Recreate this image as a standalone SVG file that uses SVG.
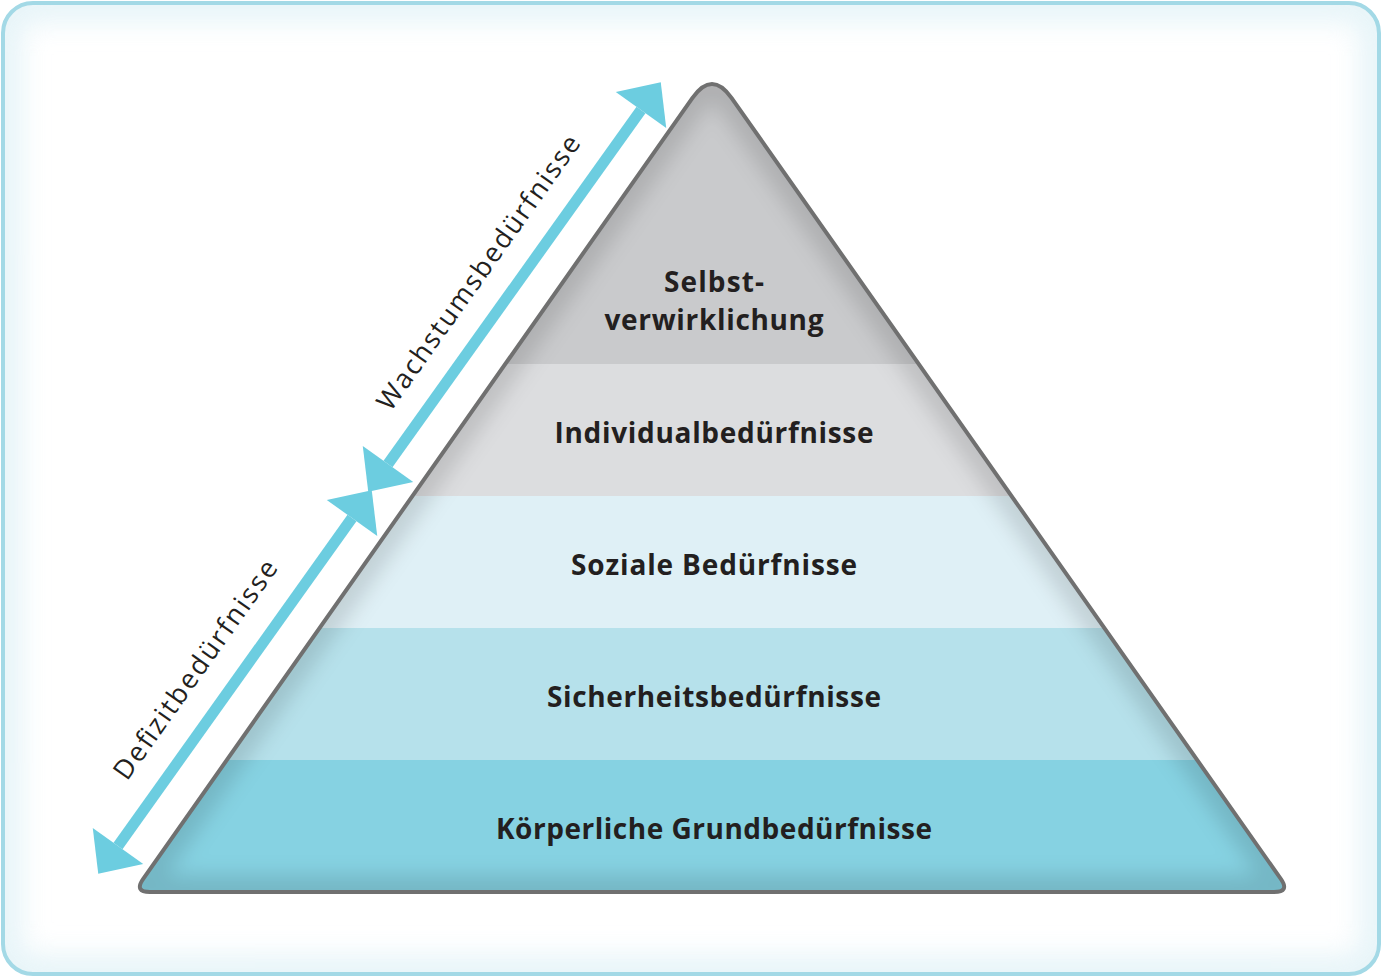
<svg xmlns="http://www.w3.org/2000/svg" width="1382" height="978" viewBox="0 0 1382 978">
<style>
.lbl{font-family:"Open Sans","Noto Sans","Liberation Sans",sans-serif;font-weight:700;font-size:28px;fill:#231f20;text-anchor:middle}
.side{font-family:"Open Sans","Noto Sans","Liberation Sans",sans-serif;font-weight:400;font-size:27px;fill:#231f20;text-anchor:middle}
.arrow{stroke:#6ccde0;stroke-width:11;fill:none}
</style>
<defs>
<path id="tri" d="M692.5,97.8 Q712,70 731.5,97.8 L1280.8,878.9 Q1290,892 1274,892 L150,892 Q134,892 143.2,878.9 Z"/>
<clipPath id="triClip"><use href="#tri"/></clipPath>
<clipPath id="frameClip"><rect x="3" y="3" width="1376" height="971" rx="30"/></clipPath>
<filter id="blur" x="-10%" y="-10%" width="120%" height="120%"><feGaussianBlur stdDeviation="10"/></filter>
<filter id="blur2" x="-10%" y="-10%" width="120%" height="120%"><feGaussianBlur stdDeviation="14"/></filter>
<linearGradient id="glowFade" x1="0" y1="0" x2="1" y2="1"><stop offset="0" stop-color="#fff" stop-opacity="1"/><stop offset="0.5" stop-color="#fff" stop-opacity="0.4"/><stop offset="1" stop-color="#fff" stop-opacity="0.7"/></linearGradient>
<marker id="head" markerUnits="userSpaceOnUse" markerWidth="40" markerHeight="70" refX="0" refY="0" orient="auto-start-reverse" overflow="visible">
<path d="M0,-31 L34,0 L0,31 Z" fill="#6ccde0"/>
</marker>
</defs>
<g id="frame">
<rect x="3" y="3" width="1376" height="971" rx="30" fill="#ffffff"/>
<rect x="3" y="3" width="1376" height="971" rx="30" fill="none" stroke="#dff1f6" stroke-width="36" clip-path="url(#frameClip)" filter="url(#blur2)" opacity="0.8"/>
<rect x="3" y="3" width="1376" height="971" rx="30" fill="none" stroke="#a3d9e6" stroke-width="4"/>
</g>
<g id="pyramid">
<g clip-path="url(#triClip)">
<rect x="100" y="60" width="1200" height="305" fill="#c9cacc"/>
<rect x="100" y="364" width="1200" height="133" fill="#dcdddf"/>
<rect x="100" y="496" width="1200" height="133" fill="#dff0f6"/>
<rect x="100" y="628" width="1200" height="133" fill="#b6e1eb"/>
<rect x="100" y="760" width="1200" height="140" fill="#86d2e2"/>
<use href="#tri" fill="none" stroke="#000" stroke-opacity="0.13" stroke-width="34" filter="url(#blur)"/>
</g>
<use href="#tri" fill="none" stroke="#707070" stroke-width="4" stroke-linejoin="round"/>
</g>
<g id="level5"><text class="lbl" x="714" y="292" textLength="100">Selbst-</text><text class="lbl" x="714" y="330" textLength="219">verwirklichung</text></g>
<g id="level4"><text class="lbl" x="714" y="443" textLength="319">Individualbedürfnisse</text></g>
<g id="level3"><text class="lbl" x="714" y="575" textLength="286">Soziale Bedürfnisse</text></g>
<g id="level2"><text class="lbl" x="714" y="707" textLength="334">Sicherheitsbedürfnisse</text></g>
<g id="level1"><text class="lbl" x="714" y="839" textLength="436">Körperliche Grundbedürfnisse</text></g>
<g id="connectors">
<line class="arrow" x1="388" y1="464" x2="641" y2="110" marker-start="url(#head)" marker-end="url(#head)"/>
<line class="arrow" x1="118" y1="846" x2="352" y2="518" marker-start="url(#head)" marker-end="url(#head)"/>
</g>
<g id="label-wachstum"><text class="side" x="486" y="278" textLength="330" transform="rotate(-54.6 486 278)">Wachstumsbedürfnisse</text></g>
<g id="label-defizit"><text class="side" x="203" y="675" textLength="262" transform="rotate(-54.6 203 675)">Defizitbedürfnisse</text></g>
</svg>
